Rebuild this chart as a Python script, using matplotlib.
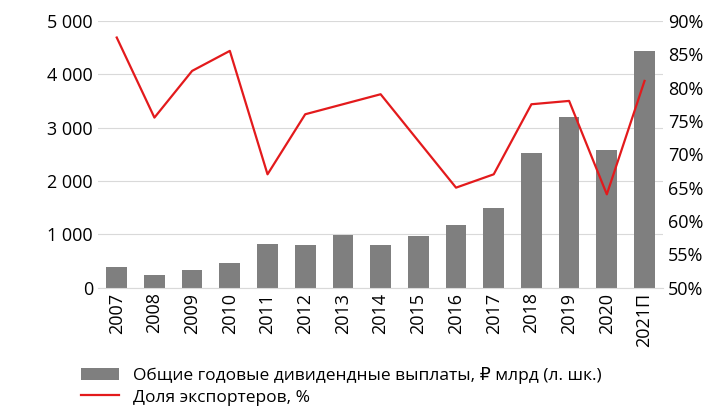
import matplotlib
matplotlib.use("Agg")
import matplotlib.pyplot as plt
from matplotlib.ticker import FuncFormatter

plt.rcParams["font.family"] = ["Open Sans", "DejaVu Sans"]

years = ["2007", "2008", "2009", "2010", "2011", "2012", "2013", "2014",
         "2015", "2016", "2017", "2018", "2019", "2020", "2021П"]
dividends = [380, 240, 340, 470, 820, 800, 990, 800, 970, 1180, 1500, 2520, 3190, 2580, 4430]
exporters_share = [87.5, 75.5, 82.5, 85.5, 67, 76, 77.5, 79, 72, 65, 67, 77.5, 78, 64, 81]

fig = plt.figure(figsize=(7.25, 4.17), dpi=100)
ax = fig.add_axes([0.135, 0.31, 0.78, 0.64])
x = range(len(years))
ax.bar(x, dividends, width=0.55, color="#7f7f7f", zorder=2,
       label="Общие годовые дивидендные выплаты, ₽ млрд (л. шк.)")
ax.set_ylim(0, 5000)
ax.set_yticks(range(0, 5001, 1000))
ax.yaxis.set_major_formatter(FuncFormatter(lambda v, p: f"{int(v):,}".replace(",", " ")))
ax.grid(axis="y", color="#d9d9d9", lw=0.8, zorder=0)
ax.set_xlim(-0.5, len(years) - 0.5)
ax.set_xticks(list(x))
ax.set_xticklabels(years, rotation=90)
for s in ["top", "right", "left"]:
    ax.spines[s].set_visible(False)
ax.spines["bottom"].set_color("#d9d9d9")
ax.tick_params(length=0, labelsize=13)

ax2 = ax.twinx()
ax2.plot(list(x), exporters_share, color="#e31a1c", lw=1.6,
         label="Доля экспортеров, %")
ax2.set_ylim(50, 90)
ax2.set_yticks(range(50, 91, 5))
ax2.yaxis.set_major_formatter(FuncFormatter(lambda v, p: f"{int(v)}%"))
for s in ax2.spines.values():
    s.set_visible(False)
ax2.tick_params(length=0, labelsize=13)

h1, l1 = ax.get_legend_handles_labels()
h2, l2 = ax2.get_legend_handles_labels()
fig.legend(h1 + h2, l1 + l2, loc="lower left", bbox_to_anchor=(0.09, -0.01),
           frameon=False, fontsize=12.5, handlelength=2.2, labelspacing=0.3)

fig.savefig("out.png", dpi=100)
